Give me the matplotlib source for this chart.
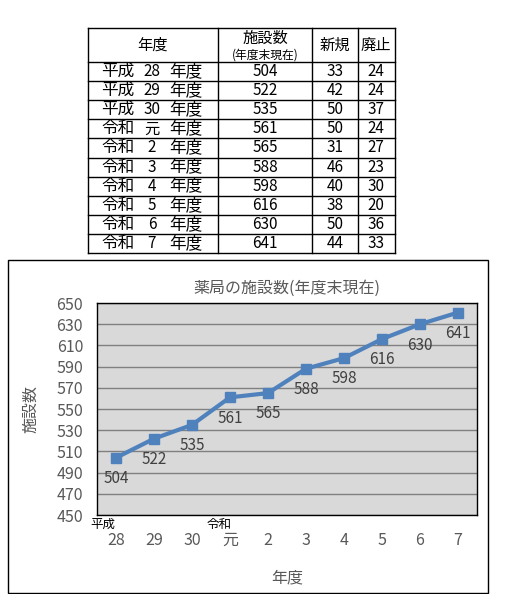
import numpy as np
import matplotlib.pyplot as plt
from matplotlib.patches import Rectangle

plt.rcParams['font.family'] = ['Noto Sans CJK JP', 'DejaVu Sans']

eras = ["平成", "平成", "平成", "令和", "令和", "令和", "令和", "令和", "令和", "令和"]
years = ["28", "29", "30", "元", "2", "3", "4", "5", "6", "7"]
shisetsu = [504, 522, 535, 561, 565, 588, 598, 616, 630, 641]
shinki = [33, 42, 50, 50, 31, 46, 40, 38, 50, 44]
haishi = [24, 24, 37, 24, 27, 23, 30, 20, 36, 33]

W, H = 507, 594
fig = plt.figure(figsize=(W / 100, H / 100), dpi=100)

# table drawn in pixel coords
bg = fig.add_axes([0, 0, 1, 1])
bg.set_xlim(0, W)
bg.set_ylim(H, 0)
bg.axis('off')

tx0, tx1 = 88, 395
cols = [88, 218, 312, 358, 395]
ty0, th = 28, 62
rh = (253 - th) / len(years)
rows_y = [ty0, th] + [th + rh * (i + 1) for i in range(len(years))]
for y in rows_y:
    bg.plot([tx0, tx1], [y, y], color='black', lw=1)
for x in cols:
    bg.plot([x, x], [ty0, rows_y[-1]], color='black', lw=1)

fs = 11
bg.text(153, 45, "年度", ha='center', va='center', fontsize=fs)
bg.text(265, 38, "施設数", ha='center', va='center', fontsize=fs)
bg.text(265, 55, "(年度末現在)", ha='center', va='center', fontsize=8.5)
bg.text(335, 45, "新規", ha='center', va='center', fontsize=fs)
bg.text(376, 45, "廃止", ha='center', va='center', fontsize=fs)
for i in range(len(years)):
    yc = th + rh * i + rh / 2
    bg.text(101, yc, eras[i], ha='left', va='center', fontsize=12)
    bg.text(152, yc, years[i], ha='center', va='center', fontsize=fs)
    bg.text(169, yc, "年度", ha='left', va='center', fontsize=12)
    bg.text(265, yc, str(shisetsu[i]), ha='center', va='center', fontsize=fs)
    bg.text(335, yc, str(shinki[i]), ha='center', va='center', fontsize=fs)
    bg.text(376, yc, str(haishi[i]), ha='center', va='center', fontsize=fs)

# outer chart frame
bg.add_patch(Rectangle((8, 260), 480, 333, fill=False, ec='black', lw=1))

# chart
ax = fig.add_axes([97 / W, 1 - 515 / H, 380 / W, 212 / H])
ax.set_facecolor('#D9D9D9')
x = np.arange(len(years))
ax.plot(x, shisetsu, color='#4F81BD', lw=3, marker='s', ms=7)
for xi, v in zip(x, shisetsu):
    ax.annotate(str(v), (xi, v), xytext=(0, -15), textcoords='offset points',
                ha='center', va='center', fontsize=11, color='#404040')
ax.set_xlim(-0.5, len(years) - 0.5)
ax.set_ylim(450, 650)
ax.set_yticks(np.arange(450, 651, 20))
ax.yaxis.grid(True, color='#808080', lw=1)
ax.set_axisbelow(True)
ax.set_xticks(x)
ax.set_xticklabels(years)
ax.tick_params(length=0, labelsize=11.5, labelcolor='#595959', pad=12)
ax.tick_params(axis='y', pad=10)
for s in ax.spines.values():
    s.set_color('black')
    s.set_linewidth(1)
ax.set_title("薬局の施設数(年度末現在)", fontsize=11.5, color='#595959', pad=7)
ax.set_ylabel("施設数", fontsize=11.5, color='#595959', labelpad=12)
ax.set_xlabel("年度", fontsize=11.5, color='#595959', labelpad=15)

tr = ax.get_xaxis_transform()
ax.text(-0.35, -0.045, "平成", transform=tr, ha='center', va='center', fontsize=9, color='black')
ax.text(2.7, -0.045, "令和", transform=tr, ha='center', va='center', fontsize=9, color='black')

plt.savefig("out.png", dpi=100)
